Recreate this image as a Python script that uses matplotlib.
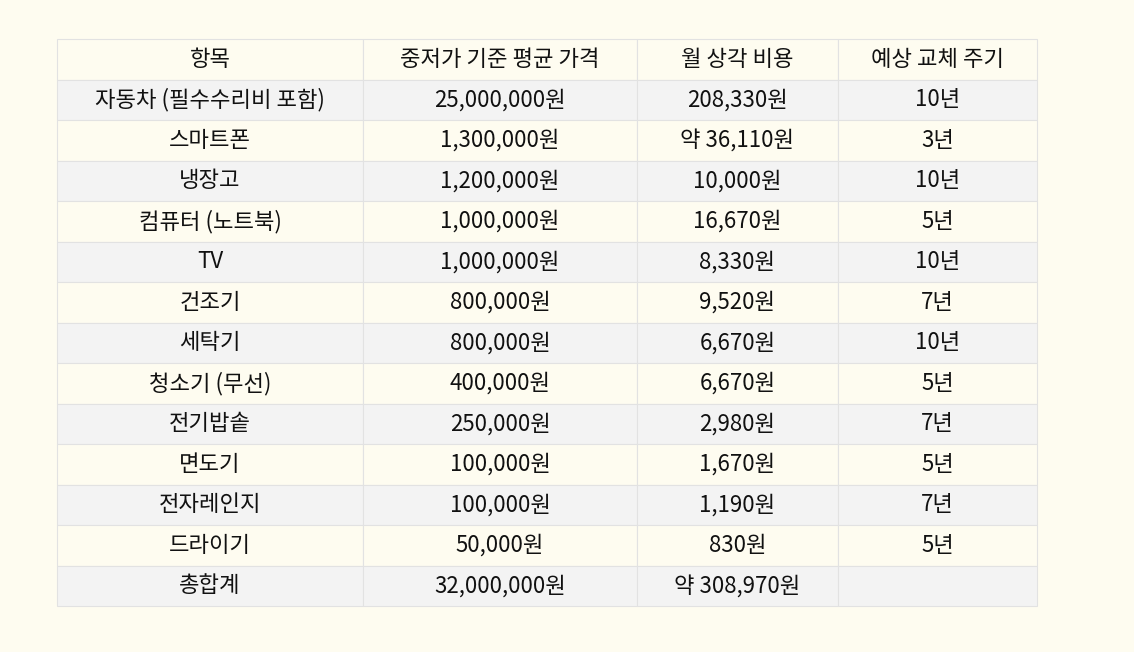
import matplotlib.pyplot as plt
from matplotlib.patches import Rectangle

plt.rcParams['font.family'] = ['Noto Sans CJK KR', 'DejaVu Sans']

headers = ['항목', '중저가 기준 평균 가격', '월 상각 비용', '예상 교체 주기']
items = ['자동차 (필수수리비 포함)', '스마트폰', '냉장고', '컴퓨터 (노트북)', 'TV', '건조기', '세탁기',
         '청소기 (무선)', '전기밥솥', '면도기', '전자레인지', '드라이기', '총합계']
prices = ['25,000,000원', '1,300,000원', '1,200,000원', '1,000,000원', '1,000,000원', '800,000원',
          '800,000원', '400,000원', '250,000원', '100,000원', '100,000원', '50,000원', '32,000,000원']
monthly = ['208,330원', '약 36,110원', '10,000원', '16,670원', '8,330원', '9,520원', '6,670원',
           '6,670원', '2,980원', '1,670원', '1,190원', '830원', '약 308,970원']
cycles = ['10년', '3년', '10년', '5년', '10년', '7년', '10년', '5년', '7년', '5년', '7년', '5년', '']

bg = '#fefcf0'
fig = plt.figure(figsize=(11.34, 6.52), dpi=100, facecolor=bg)
ax = fig.add_axes([0, 0, 1, 1])
ax.set_xlim(0, 1134)
ax.set_ylim(652, 0)
ax.axis('off')

col_x = [57, 363, 637, 838, 1037]
top, row_h = 39, 40.5
rows = [headers] + [list(r) for r in zip(items, prices, monthly, cycles)]

for i, row in enumerate(rows):
    y = top + i * row_h
    face = '#f3f3f3' if i % 2 == 1 else bg
    for j, txt in enumerate(row):
        ax.add_patch(Rectangle((col_x[j], y), col_x[j + 1] - col_x[j], row_h,
                               facecolor=face, edgecolor='#e2e2e2', linewidth=0.8))
        ax.text((col_x[j] + col_x[j + 1]) / 2, y + row_h / 2, txt, ha='center', va='center',
                fontsize=16, color='#111111')

fig.savefig('out.png', dpi=100, facecolor=bg)
